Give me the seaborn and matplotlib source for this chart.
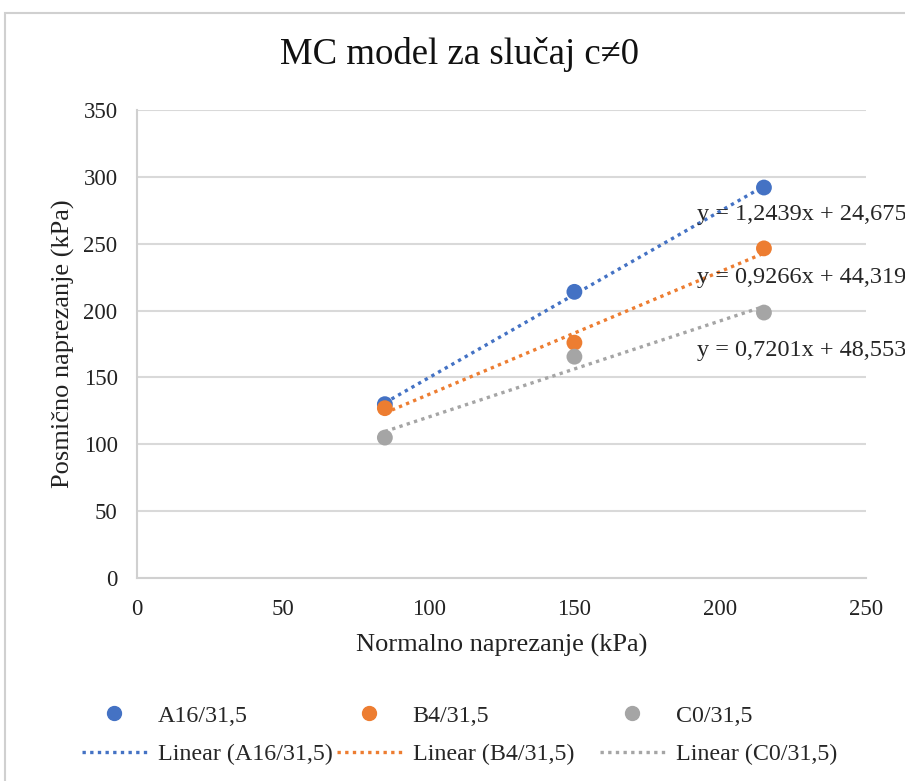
import numpy as np
import pandas as pd
import seaborn as sns
import matplotlib
matplotlib.use("Agg")
import matplotlib.pyplot as plt
from matplotlib.lines import Line2D
from matplotlib.patches import Rectangle

# data
normal_stress = [85, 150, 215]
shear_a16 = [130, 214, 292]
shear_b4 = [127, 176, 246.5]
shear_c0 = [105, 165.5, 198.5]
series_names = ["A16/31,5", "B4/31,5", "C0/31,5"]
equations = ["y = 1,2439x + 24,675", "y = 0,9266x + 44,319", "y = 0,7201x + 48,553"]
eq_pos = [(192, 271.5), (192, 225), (192, 170.5)]
colors = ["#4472C4", "#ED7D31", "#A5A5A5"]

df = pd.DataFrame({
    "x": normal_stress * 3,
    "y": shear_a16 + shear_b4 + shear_c0,
    "serija": [n for n in series_names for _ in normal_stress],
})

sns.set_theme(style="whitegrid")
plt.rcParams["font.family"] = ["Liberation Serif", "DejaVu Serif"]

fig = plt.figure(figsize=(9.05, 7.81), dpi=100)
ax = fig.add_axes([0.1514, 0.2599, 0.8055, 0.5993])

# chart border (cut at right and bottom like the screenshot)
fig.patches.append(Rectangle((5 / 905, -0.1), 1.2, 1 - 13 / 781 + 0.1, transform=fig.transFigure,
                             fill=False, edgecolor="#d0d0d0", linewidth=1.5, zorder=0))

legend_cols = []
for name, c in zip(series_names, colors):
    sub = df[df["serija"] == name]
    sns.regplot(data=sub, x="x", y="y", ax=ax, scatter=False, ci=None, truncate=True,
                color=c, line_kws=dict(linestyle=(0, (1, 1.3)), linewidth=2.4, zorder=2))
    sns.scatterplot(data=sub, x="x", y="y", ax=ax, color=c, s=130, edgecolor="none", zorder=3,
                    legend=False)
    legend_cols.append(([Line2D([], [], marker="o", linestyle="none", color=c, markersize=10),
                         Line2D([], [], linestyle=(0, (1, 1.3)), linewidth=2.4, color=c)],
                        [name, "Linear ({})".format(name)]))

for eq, (ex, ey) in zip(equations, eq_pos):
    ax.text(ex, ey, eq, fontsize=17.5, va="center", ha="left", clip_on=False, zorder=4)

ax.set_xlim(0, 250)
ax.set_ylim(0, 350)
ax.set_xticks(np.arange(0, 251, 50))
ax.set_yticks(np.arange(0, 351, 50))
ax.grid(True, axis="y", color="#d9d9d9", linewidth=1.5)
ax.grid(False, axis="x")
for side in ["top", "right"]:
    ax.spines[side].set_visible(False)
for side in ["left", "bottom"]:
    ax.spines[side].set_color("#d0d0d0")
    ax.spines[side].set_linewidth(1.5)
ax.tick_params(axis="both", length=0, labelsize=16.5, colors="#222222")
ax.tick_params(axis="x", pad=15)
ax.tick_params(axis="y", pad=14)

ax.set_xlabel("Normalno naprezanje (kPa)", fontsize=19, labelpad=10, color="#222222")
ax.set_ylabel("Posmično naprezanje (kPa)", fontsize=19, labelpad=6, color="#222222")
fig.text(0.508, 0.93, "MC model za slučaj c≠0", fontsize=26.5, ha="center", va="center", color="#111111")

# one legend per column, equal column widths like the original
for (h, l), x0 in zip(legend_cols, [82, 337, 600]):
    leg = fig.legend(h, l, loc="upper left", bbox_to_anchor=(x0 / 905, 1 - 705 / 781),
                     frameon=False, fontsize=17.3, handlelength=2.7, handletextpad=0.45,
                     labelspacing=0.7, borderpad=0, borderaxespad=0)

fig.savefig("out.png", dpi=100)
